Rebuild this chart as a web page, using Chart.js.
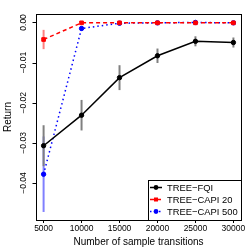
<!DOCTYPE html>
<html><head><meta charset="utf-8">
<script src="https://cdn.jsdelivr.net/npm/chart.js@4/dist/chart.umd.min.js"></script>
<style>html,body{margin:0;padding:0;background:#fff}canvas{display:block}</style>
</head><body>
<canvas id="c" width="249" height="249"></canvas>
<script>
const sampleSizes = [5000, 10000, 15000, 20000, 25000, 30000];
const fqi = [-0.0307, -0.0231, -0.01375, -0.0083, -0.0047, -0.005];
const fqiErr = [0.0051, 0.0038, 0.0031, 0.0018, 0.00125, 0.00125];
const capi20 = [-0.00425, -0.0001, -0.0001, -0.0001, -0.0001, -0.0001];
const capi20Err = [0.0024, 0.0003, 0.0002, 0.0002, 0.0002, 0.0002];
const capi500 = [-0.0378, -0.0015, -0.0002, -0.0001, 0.0, -0.0001];
const capi500Err = [0.0094, 0.0006, 0.0003, 0.0002, 0.0002, 0.0002];
const seriesNames = ["TREE\u2212FQI", "TREE\u2212CAPI 20", "TREE\u2212CAPI 500"];
const xTicks = [5000, 10000, 15000, 20000, 25000, 30000];
const yTicks = [-0.04, -0.03, -0.02, -0.01, 0.0];
const yTickLabels = ["\u22120.04", "\u22120.03", "\u22120.02", "\u22120.01", "0.00"];

const FONT = "'Liberation Sans', Arial, sans-serif";
const pts = (ys) => sampleSizes.map((x, i) => ({x: x, y: ys[i]}));

const datasets = [
  {label: seriesNames[0], data: pts(fqi), err: fqiErr, errColor: '#808080',
   borderColor: '#000', backgroundColor: '#000', borderWidth: 1.5,
   pointStyle: 'circle', pointRadius: 2.2, pointBorderWidth: 1, pointBorderColor: '#000', pointBackgroundColor: '#000'},
  {label: seriesNames[1], data: pts(capi20), err: capi20Err, errColor: '#ff8080',
   borderColor: '#ff0000', backgroundColor: '#ff0000', borderWidth: 1.5, borderDash: [4, 3],
   pointStyle: 'rect', pointRadius: 2.6, pointBorderWidth: 1, pointBorderColor: '#ff0000', pointBackgroundColor: '#ff0000'},
  {label: seriesNames[2], data: pts(capi500), err: capi500Err, errColor: '#8080ff',
   borderColor: '#0000ff', backgroundColor: '#0000ff', borderWidth: 1.5, borderDash: [1.5, 3],
   pointStyle: 'circle', pointRadius: 2.2, pointBorderWidth: 1, pointBorderColor: '#0000ff', pointBackgroundColor: '#0000ff'}
];

const errorBars = {
  id: 'errorBars',
  beforeDatasetsDraw(chart) {
    const ctx = chart.ctx, xs = chart.scales.x, ys = chart.scales.y;
    ctx.save();
    ctx.lineWidth = 2;
    [2, 1, 0].forEach(di => {
      const ds = chart.data.datasets[di];
      ctx.strokeStyle = ds.errColor;
      ds.data.forEach((p, i) => {
        const px = xs.getPixelForValue(p.x);
        ctx.beginPath();
        ctx.moveTo(px, ys.getPixelForValue(p.y + ds.err[i]));
        ctx.lineTo(px, ys.getPixelForValue(p.y - ds.err[i]));
        ctx.stroke();
      });
    });
    ctx.restore();
  }
};

const decor = {
  id: 'decor',
  afterDraw(chart) {
    const ctx = chart.ctx, a = chart.chartArea, ys = chart.scales.y;
    ctx.save();
    // frame
    ctx.strokeStyle = '#000'; ctx.lineWidth = 1;
    const L = Math.round(a.left) + 0.5;
    ctx.strokeRect(L, Math.round(a.top) + 0.5, Math.round(a.right - a.left), Math.round(a.bottom - a.top));
    // y tick marks and labels (rotated, R style)
    ctx.fillStyle = '#000';
    ctx.font = '8.5px ' + FONT;
    ctx.textAlign = 'center'; ctx.textBaseline = 'middle';
    yTicks.forEach((v, i) => {
      const y = ys.getPixelForValue(v);
      const yr = Math.round(y) + 0.5;
      ctx.beginPath(); ctx.moveTo(L - 4, yr); ctx.lineTo(L, yr); ctx.stroke();
      ctx.save(); ctx.translate(23.5, y); ctx.rotate(-Math.PI / 2);
      ctx.fillText(yTickLabels[i], 0, 0); ctx.restore();
    });
    // legend
    const lx = 148.5, ly = 180.5, lw = Math.round(a.right) - 148, lh = Math.round(a.bottom) - 180;
    ctx.fillStyle = '#fff'; ctx.fillRect(lx, ly, lw, lh);
    ctx.strokeStyle = '#000'; ctx.lineWidth = 1; ctx.strokeRect(lx, ly, lw, lh);
    ctx.font = '9.4px ' + FONT; ctx.textAlign = 'left'; ctx.textBaseline = 'middle';
    chart.data.datasets.forEach((ds, i) => {
      const y = 187.5 + i * 12;
      ctx.strokeStyle = ds.borderColor; ctx.lineWidth = 1.5;
      ctx.setLineDash(ds.borderDash || []);
      ctx.beginPath(); ctx.moveTo(150, y); ctx.lineTo(162, y); ctx.stroke();
      ctx.setLineDash([]);
      ctx.fillStyle = ds.borderColor;
      if (ds.pointStyle === 'rect') { ctx.fillRect(154, y - 2, 4, 4); }
      else { ctx.beginPath(); ctx.arc(156, y, 2.4, 0, Math.PI * 2); ctx.fill(); }
      ctx.fillStyle = '#000';
      ctx.fillText(ds.label, 167, y + 0.5);
    });
    ctx.restore();
  }
};

new Chart(document.getElementById('c'), {
  type: 'line',
  data: {datasets: datasets},
  options: {
    responsive: false, animation: false, devicePixelRatio: 1,
    layout: {padding: {top: 14, right: 8, left: 0, bottom: 0}},
    plugins: {legend: {display: false}, tooltip: {enabled: false}},
    elements: {line: {tension: 0}},
    scales: {
      x: {
        type: 'linear', min: 4000, max: 31000,
        afterBuildTicks: s => { s.ticks = xTicks.map(v => ({value: v})); },
        afterFit: s => { s.height = 29; },
        grid: {drawOnChartArea: false, drawTicks: true, tickLength: 3, color: '#000'},
        border: {display: true, color: '#000'},
        ticks: {color: '#000', font: {family: FONT, size: 8.5}, padding: 1, maxRotation: 0, autoSkip: false,
                callback: v => String(v)},
        title: {display: true, text: 'Number of sample transitions', color: '#000',
                font: {family: FONT, size: 10}, padding: {top: 0, bottom: 1}}
      },
      y: {
        type: 'linear', min: -0.0492, max: 0.0021,
        afterBuildTicks: s => { s.ticks = yTicks.map(v => ({value: v})); },
        afterFit: s => { s.width = 36; },
        grid: {drawOnChartArea: false, drawTicks: false, color: '#000'},
        border: {display: true, color: '#000'},
        ticks: {display: false},
        title: {display: true, text: 'Return', color: '#000',
                font: {family: FONT, size: 10}, padding: {top: 2, bottom: 0}}
      }
    }
  },
  plugins: [errorBars, decor]
});
</script>
</body></html>
